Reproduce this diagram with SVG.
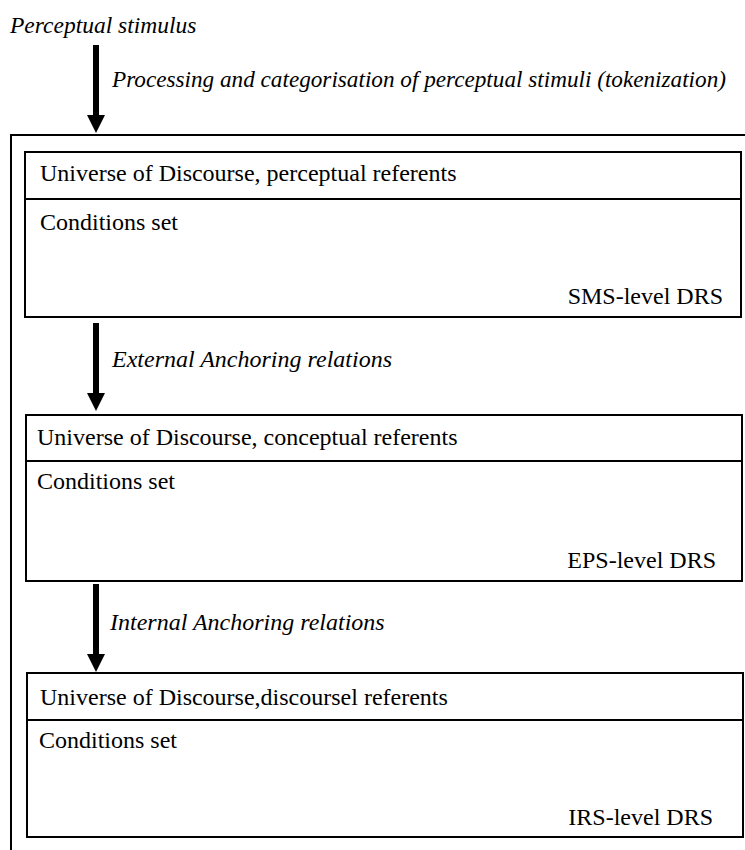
<svg xmlns="http://www.w3.org/2000/svg" width="745" height="850" viewBox="0 0 745 850">
<style>
  text { font-family: "Liberation Serif", "Times New Roman", serif; font-size: 24px; fill: #000; }
  .it { font-style: italic; }
  .box { fill: #fff; stroke: #000; stroke-width: 2; }
  .div { stroke: #000; stroke-width: 2; }
  .frame { fill: none; stroke: #000; stroke-width: 2; }
  .arrow { stroke: #000; stroke-width: 6; marker-end: url(#ah); }
</style>
<defs>
  <marker id="ah" markerUnits="userSpaceOnUse" markerWidth="18" markerHeight="18" viewBox="0 0 18 18" refX="0" refY="9" orient="auto">
    <path d="M0,0 L18,9 L0,18 Z" fill="#000"/>
  </marker>
</defs>
<rect width="745" height="850" fill="#fff"/>

<g id="stimulus">
  <text class="it" x="10" y="33" style="font-size:23.5px">Perceptual stimulus</text>
</g>

<g id="frame">
  <path class="frame" d="M745,135 L11,135 L11,850"/>
</g>

<g id="sms-drs">
  <rect class="box" x="25" y="152" width="716" height="165"/>
  <line class="div" x1="25" y1="199" x2="741" y2="199"/>
  <text x="40" y="181">Universe of Discourse, perceptual referents</text>
  <text x="40" y="230">Conditions set</text>
  <text x="723" y="304" text-anchor="end">SMS-level DRS</text>
</g>

<g id="eps-drs">
  <rect class="box" x="26" y="415" width="716" height="166"/>
  <line class="div" x1="26" y1="461" x2="742" y2="461"/>
  <text x="37" y="445">Universe of Discourse, conceptual referents</text>
  <text x="37" y="489">Conditions set</text>
  <text x="716" y="568" text-anchor="end">EPS-level DRS</text>
</g>

<g id="irs-drs">
  <rect class="box" x="27" y="673" width="716" height="164"/>
  <line class="div" x1="27" y1="720" x2="743" y2="720"/>
  <text x="40" y="705">Universe of Discourse,discoursel referents</text>
  <text x="39" y="748">Conditions set</text>
  <text x="713" y="825" text-anchor="end">IRS-level DRS</text>
</g>

<g id="connectors">
  <line class="arrow" x1="96" y1="45" x2="96" y2="115"/>
  <text class="it" x="112" y="87" style="font-size:23.2px">Processing and categorisation of perceptual stimuli (tokenization)</text>
  <line class="arrow" x1="96" y1="323" x2="96" y2="393"/>
  <text class="it" x="112" y="367">External Anchoring relations</text>
  <line class="arrow" x1="96" y1="584" x2="96" y2="654"/>
  <text class="it" x="110" y="630">Internal Anchoring relations</text>
</g>
</svg>
